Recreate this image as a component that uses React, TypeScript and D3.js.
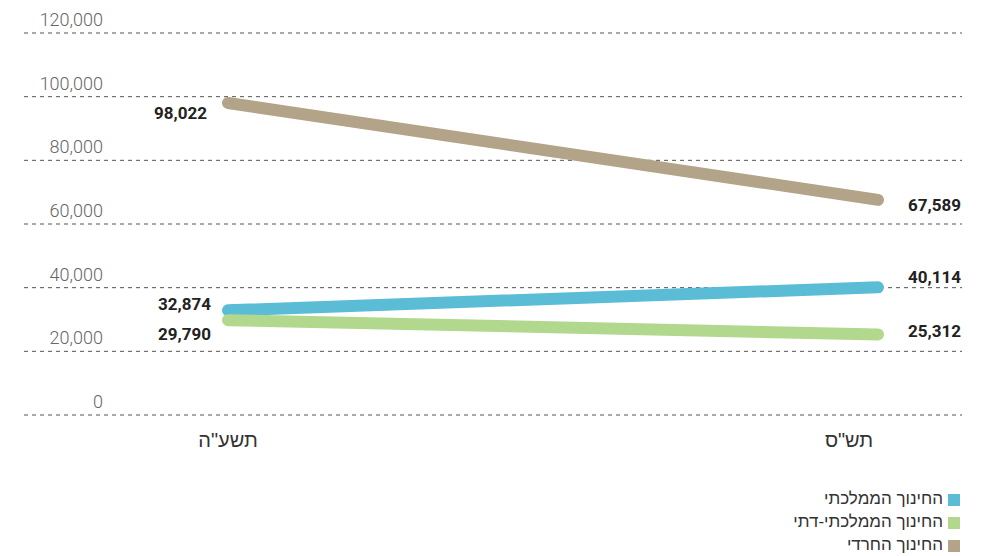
import React from "react";
import * as d3 from "d3";

const years = ["תשע\"ה", "תש\"ס"];
const seriesNames = ["החינוך הממלכתי", "החינוך הממלכתי-דתי", "החינוך החרדי"];
const mamlachti = [32874, 40114];
const datiValues = [29790, 25312];
const haredi = [98022, 67589];
const yTicks = [0, 20000, 40000, 60000, 80000, 100000, 120000];
const colors = ["#5bbcd6", "#b2d88e", "#b3a389"];

const W = 983;
const H = 556;

export default function App() {
  const y = d3.scaleLinear().domain([0, 120000]).range([415, 33]);
  const x = d3.scalePoint<string>().domain(years).range([228, 878]);
  const line = d3
    .line<number>()
    .x((_, i) => x(years[i]) as number)
    .y((d) => y(d));
  const fmt = d3.format(",");
  const series = [mamlachti, datiValues, haredi];
  const leftDy = [-5, 15, 12];
  const rightDy = [-9, -2, 7];
  const drawOrder = [2, 0, 1];

  return (
    <svg
      width={W}
      height={H}
      style={{ position: "absolute", left: 0, top: 0, background: "#fff" }}
    >
      {yTicks.map((t) => (
        <g key={t}>
          <line
            x1={24}
            x2={962}
            y1={y(t)}
            y2={y(t)}
            stroke="#555"
            strokeWidth={1}
            strokeDasharray="4,4"
          />
          <text
            x={103}
            y={y(t) - 7}
            textAnchor="end"
            fontFamily="Roboto, sans-serif"
            fontWeight={300}
            fontSize={18}
            fill="#666"
          >
            {fmt(t)}
          </text>
        </g>
      ))}
      {drawOrder.map((i) => (
        <path
          key={i}
          d={line(series[i]) || ""}
          fill="none"
          stroke={colors[i]}
          strokeWidth={12}
          strokeLinecap="round"
        />
      ))}
      {series.map((s, i) => (
        <g key={"l" + i}>
          <text
            x={i === 2 ? 207 : 211}
            y={y(s[0]) + leftDy[i]}
            dominantBaseline="middle"
            textAnchor="end"
            fontFamily="Roboto, sans-serif"
            fontWeight={700}
            fontSize={17}
            fill="#222"
          >
            {fmt(s[0])}
          </text>
          <text
            x={961}
            y={y(s[1]) + rightDy[i]}
            dominantBaseline="middle"
            textAnchor="end"
            fontFamily="Roboto, sans-serif"
            fontWeight={700}
            fontSize={17}
            fill="#222"
          >
            {fmt(s[1])}
          </text>
        </g>
      ))}
      <text
        x={x(years[0]) as number}
        y={447}
        textAnchor="middle"
        fontFamily="'Liberation Sans', 'DejaVu Sans', sans-serif"
        fontSize={20}
        fill="#333"
      >
        {years[0]}
      </text>
      <text
        x={849}
        y={447}
        textAnchor="middle"
        fontFamily="'Liberation Sans', 'DejaVu Sans', sans-serif"
        fontSize={20}
        fill="#333"
      >
        {years[1]}
      </text>
      {seriesNames.map((n, i) => (
        <g key={n}>
          <rect x={948} y={494 + i * 23} width={12} height={12} fill={colors[i]} />
          <text
            x={943}
            y={500 + i * 23}
            dominantBaseline="middle"
            textAnchor="end"
            fontFamily="'Liberation Sans', 'DejaVu Sans', sans-serif"
            fontSize={17}
            fill="#333"
          >
            {n}
          </text>
        </g>
      ))}
    </svg>
  );
}
